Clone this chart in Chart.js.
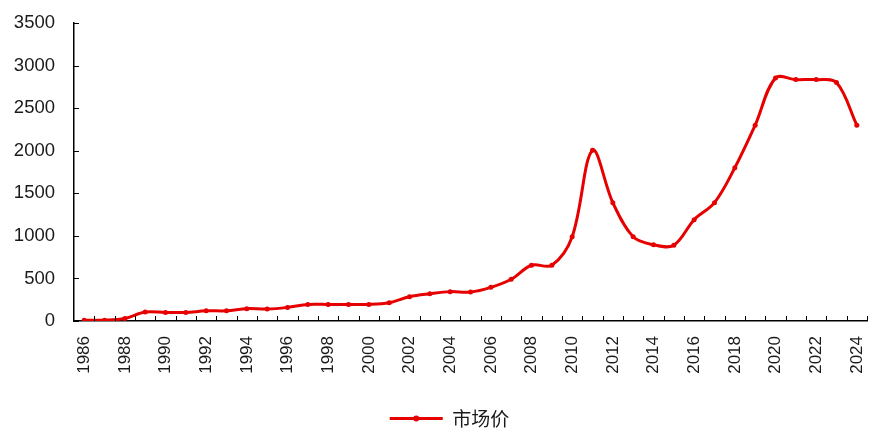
<!DOCTYPE html>
<html>
<head>
<meta charset="utf-8">
<script src="https://cdn.jsdelivr.net/npm/chart.js@4/dist/chart.umd.min.js"></script>
<style>
  html, body { margin: 0; padding: 0; background: #fff; }
  #wrap { position: relative; width: 871px; height: 429px; }
</style>
</head>
<body>
<div id="wrap"><canvas id="chart"></canvas></div>
<script>
const years = [
  "1986", "1987", "1988", "1989", "1990", "1991", "1992", "1993", "1994", "1995",
  "1996", "1997", "1998", "1999", "2000", "2001", "2002", "2003", "2004", "2005",
  "2006", "2007", "2008", "2009", "2010", "2011", "2012", "2013", "2014", "2015",
  "2016", "2017", "2018", "2019", "2020", "2021", "2022", "2023", "2024",
];
// 市场价
const marketPrice = [
  10, 10, 30, 105, 100, 100, 120, 120, 145, 140,
  160, 195, 195, 195, 195, 215, 285, 320, 345, 340,
  395, 490, 655, 655, 990, 2005, 1390, 990, 895, 890,
  1190, 1390, 1800, 2300, 2855, 2835, 2835, 2800, 2300,
];
const yMin = 0;
const yMax = 3500;
const yStep = 500;

const red = "#e60000";
const textColor = "#1a1a1a";
const tickLen = 5;

// inward tick marks on both axes (y at each value, x between categories)
const innerTicks = {
  id: "innerTicks",
  afterDraw(chart) {
    const { ctx, chartArea } = chart;
    const xs = chart.scales.x;
    const ys = chart.scales.y;
    ctx.save();
    ctx.strokeStyle = "#000";
    ctx.lineWidth = 1;
    ctx.beginPath();
    ys.ticks.forEach((t) => {
      const y = Math.round(ys.getPixelForValue(t.value)) + 0.5;
      ctx.moveTo(chartArea.left, y);
      ctx.lineTo(chartArea.left + tickLen, y);
    });
    const n = years.length;
    const step = xs.getPixelForValue(1) - xs.getPixelForValue(0);
    for (let i = 1; i <= n; i++) {
      const x = Math.round(xs.getPixelForValue(i) - step / 2) + 0.5;
      ctx.moveTo(x, chartArea.bottom);
      ctx.lineTo(x, chartArea.bottom - tickLen);
    }
    ctx.stroke();
    ctx.restore();
  },
};

// legend: nudge right and down, and put a dot in the middle of the line
const legendTweak = {
  id: "legendTweak",
  afterLayout(chart) {
    const legend = chart.legend;
    if (!legend) return;
    legend.left += 14;
    legend.right += 14;
    legend.top += 9;
    legend.bottom += 9;
  },
  afterDraw(chart) {
    const legend = chart.legend;
    if (!legend || !legend.legendHitBoxes) return;
    const ctx = chart.ctx;
    const boxW = legend.options.labels.boxWidth;
    legend.legendHitBoxes.forEach((box) => {
      ctx.save();
      ctx.fillStyle = red;
      ctx.beginPath();
      ctx.arc(box.left + boxW / 2, box.top + box.height / 2, 3, 0, Math.PI * 2);
      ctx.fill();
      ctx.restore();
    });
  },
};

new Chart(document.getElementById("chart"), {
  type: "line",
  data: {
    labels: years,
    datasets: [
      {
        label: "市场价",
        data: marketPrice,
        borderColor: red,
        backgroundColor: red,
        borderWidth: 3,
        pointRadius: 2.5,
        pointBackgroundColor: red,
        pointBorderWidth: 0,
        tension: 0.35,
        fill: false,
      },
    ],
  },
  options: {
    responsive: true,
    maintainAspectRatio: false,
    animation: false,
    layout: { padding: { top: 23, right: 0, left: 0, bottom: 0 } },
    plugins: {
      tooltip: { enabled: false },
      legend: {
        position: "bottom",
        labels: {
          boxWidth: 53,
          boxHeight: 3,
          color: textColor,
          padding: 2,
          font: { family: "'Noto Sans CJK SC', sans-serif", size: 19 },
          generateLabels(chart) {
            const items = Chart.defaults.plugins.legend.labels.generateLabels(chart);
            items.forEach((it) => {
              it.lineWidth = 0;
              it.fillStyle = red;
            });
            return items;
          },
        },
      },
    },
    scales: {
      x: {
        offset: true,
        border: { display: true, color: "#000", width: 1.5 },
        grid: { display: false, drawTicks: false },
        ticks: {
          autoSkip: false,
          maxRotation: 90,
          minRotation: 90,
          padding: 15,
          color: textColor,
          font: { family: "'Liberation Sans', Arial, sans-serif", size: 17 },
          callback: function (value, index) {
            return index % 2 === 0 ? this.getLabelForValue(value) : "";
          },
        },
        afterFit(scale) {
          scale.height = 77;
          scale.paddingLeft = 0;
          scale.paddingRight = 0;
        },
      },
      y: {
        min: yMin,
        max: yMax,
        border: { display: true, color: "#000", width: 1.5 },
        grid: { display: false, drawTicks: false },
        ticks: {
          stepSize: yStep,
          padding: 19,
          color: textColor,
          font: { family: "'Liberation Sans', Arial, sans-serif", size: 18.5 },
          callback: (v) => String(v),
        },
        afterFit(scale) {
          scale.width = 74;
          scale.paddingTop = 0;
          scale.paddingBottom = 0;
        },
      },
    },
  },
  plugins: [innerTicks, legendTweak],
});
</script>
</body>
</html>
